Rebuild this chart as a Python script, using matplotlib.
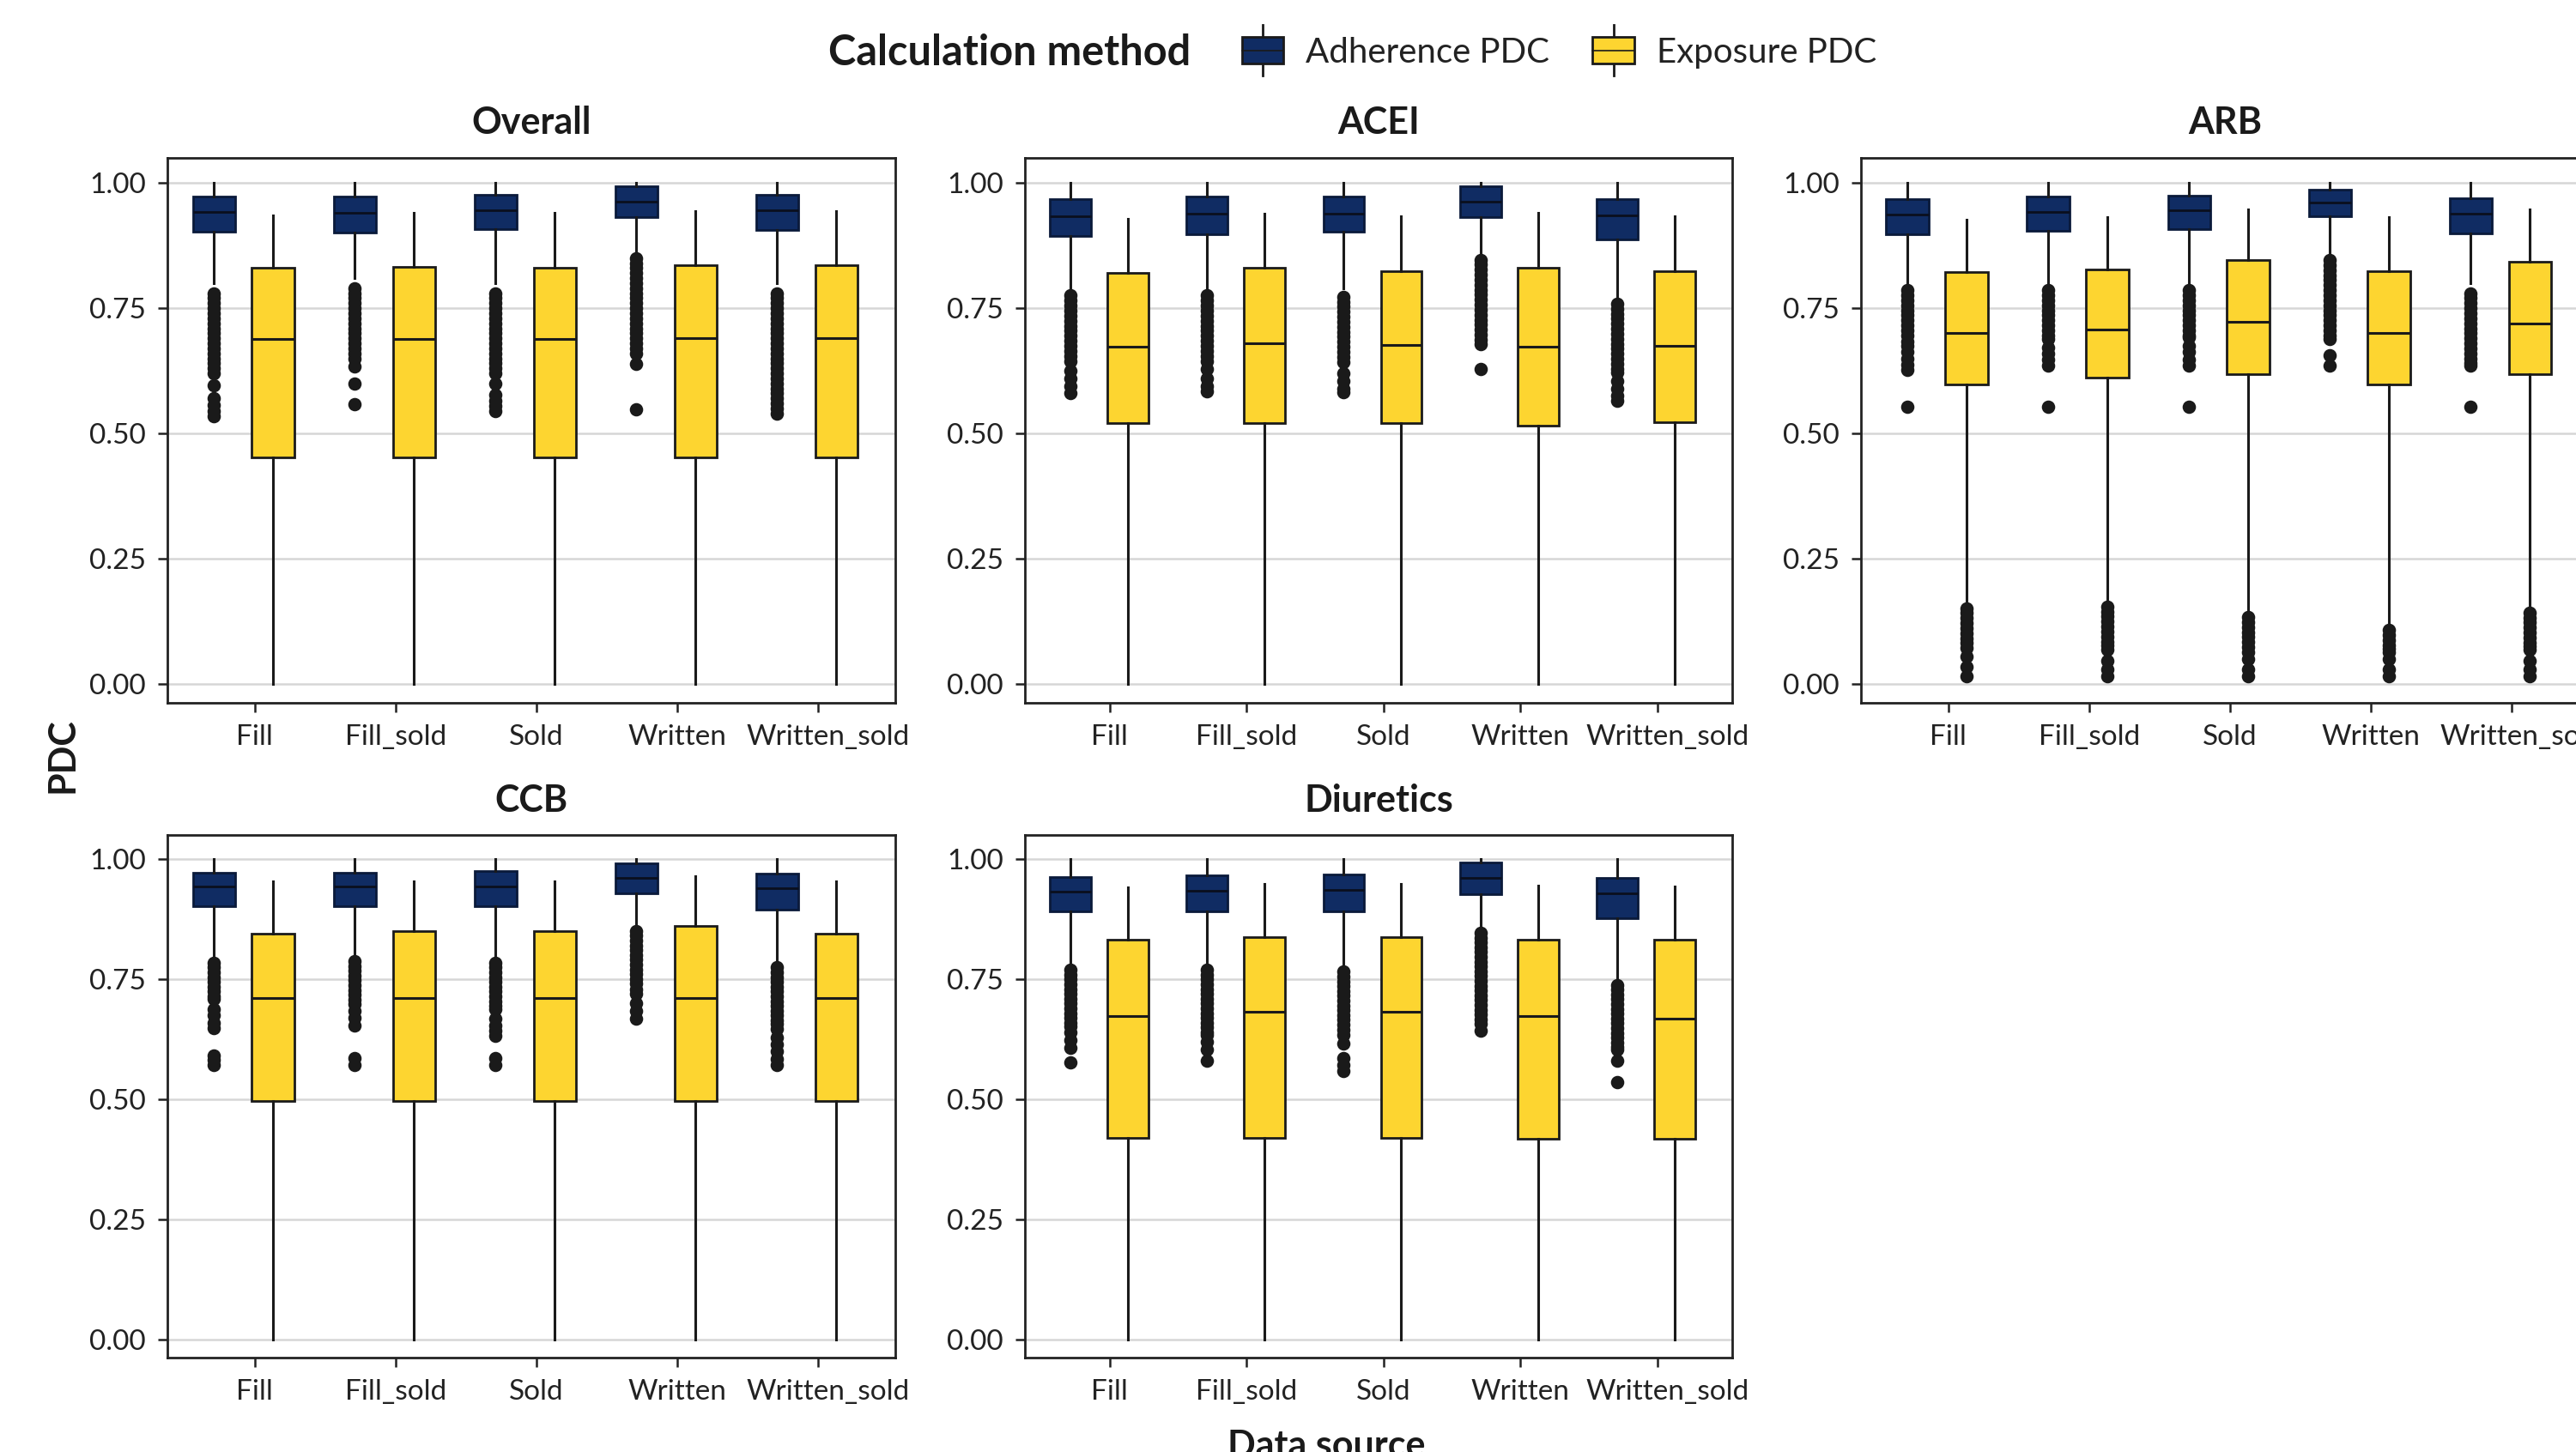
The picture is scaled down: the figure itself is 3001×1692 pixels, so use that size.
import matplotlib
matplotlib.use('Agg')
import numpy as np
import matplotlib.pyplot as plt
from matplotlib.legend_handler import HandlerBase
from matplotlib.patches import Rectangle, Patch
from matplotlib.lines import Line2D
from matplotlib.transforms import ScaledTranslation

plt.rcParams['font.family'] = ['Lato', 'DejaVu Sans']

sources = ['Fill', 'Fill_sold', 'Sold', 'Written', 'Written_sold']
panels = ['Overall', 'ACEI', 'ARB', 'CCB', 'Diuretics']

# each row: whisker low, q1, median, q3, whisker high
overall_adh = [[0.80, 0.902, 0.942, 0.973, 1.0],
               [0.81, 0.901, 0.940, 0.973, 1.0],
               [0.80, 0.908, 0.946, 0.977, 1.0],
               [0.86, 0.931, 0.962, 0.993, 1.0],
               [0.80, 0.906, 0.946, 0.977, 1.0]]
overall_adh_out = [
    [0.78, 0.77, 0.76, 0.75, 0.74, 0.73, 0.72, 0.71, 0.70, 0.69, 0.68, 0.67, 0.66, 0.65, 0.64, 0.63, 0.62,
     0.597, 0.571, 0.557, 0.545, 0.534],
    [0.79, 0.78, 0.77, 0.76, 0.75, 0.74, 0.73, 0.72, 0.71, 0.70, 0.69, 0.68, 0.67, 0.66, 0.65,
     0.634, 0.600, 0.558],
    [0.78, 0.77, 0.76, 0.75, 0.74, 0.73, 0.72, 0.71, 0.70, 0.69, 0.68, 0.67, 0.66, 0.65, 0.64, 0.63, 0.62,
     0.600, 0.577, 0.565, 0.555, 0.545],
    [0.85, 0.84, 0.83, 0.82, 0.81, 0.80, 0.79, 0.78, 0.77, 0.76, 0.75, 0.74, 0.73, 0.72, 0.71, 0.70, 0.69,
     0.68, 0.67, 0.66, 0.639, 0.548],
    [0.78, 0.77, 0.76, 0.75, 0.74, 0.73, 0.72, 0.71, 0.70, 0.69, 0.68, 0.67, 0.66, 0.65, 0.64, 0.63, 0.62,
     0.61, 0.60, 0.59, 0.58, 0.57, 0.56, 0.55, 0.54]]
overall_exp = [[0.0, 0.453, 0.689, 0.830, 0.936],
               [0.0, 0.453, 0.689, 0.832, 0.940],
               [0.0, 0.453, 0.689, 0.830, 0.940],
               [0.0, 0.453, 0.690, 0.836, 0.943],
               [0.0, 0.453, 0.690, 0.836, 0.943]]
overall_exp_out = [[], [], [], [], []]

acei_adh = [[0.79, 0.894, 0.934, 0.967, 1.0],
            [0.79, 0.897, 0.939, 0.972, 1.0],
            [0.79, 0.902, 0.939, 0.973, 1.0],
            [0.86, 0.931, 0.962, 0.993, 1.0],
            [0.775, 0.887, 0.935, 0.967, 1.0]]
acei_adh_out = [
    [0.776, 0.765, 0.755, 0.745, 0.735, 0.725, 0.715, 0.705, 0.695, 0.685, 0.675, 0.665, 0.655, 0.645,
     0.625, 0.61, 0.595, 0.58],
    [0.776, 0.765, 0.755, 0.745, 0.735, 0.725, 0.715, 0.705, 0.695, 0.685, 0.675, 0.665, 0.655, 0.645,
     0.628, 0.61, 0.595, 0.585],
    [0.773, 0.763, 0.753, 0.743, 0.733, 0.723, 0.713, 0.703, 0.693, 0.683, 0.673, 0.663, 0.653, 0.643,
     0.62, 0.605, 0.59, 0.582],
    [0.847, 0.837, 0.827, 0.817, 0.807, 0.797, 0.787, 0.777, 0.767, 0.757, 0.747, 0.737, 0.727, 0.717,
     0.707, 0.697, 0.687, 0.679, 0.628],
    [0.759, 0.749, 0.739, 0.729, 0.719, 0.709, 0.699, 0.689, 0.679, 0.669, 0.659, 0.649, 0.639, 0.629,
     0.622, 0.605, 0.59, 0.575, 0.565]]
acei_exp = [[0.0, 0.521, 0.673, 0.820, 0.929],
            [0.0, 0.521, 0.680, 0.830, 0.938],
            [0.0, 0.521, 0.677, 0.824, 0.933],
            [0.0, 0.515, 0.673, 0.830, 0.941],
            [0.0, 0.523, 0.675, 0.824, 0.933]]
acei_exp_out = [[], [], [], [], []]

arb_adh = [[0.80, 0.897, 0.937, 0.967, 1.0],
           [0.80, 0.905, 0.942, 0.972, 1.0],
           [0.80, 0.908, 0.946, 0.975, 1.0],
           [0.86, 0.934, 0.960, 0.987, 1.0],
           [0.80, 0.899, 0.938, 0.969, 1.0]]
arb_adh_out = [
    [0.786, 0.776, 0.766, 0.756, 0.746, 0.736, 0.726, 0.716, 0.706, 0.696, 0.684,
     0.675, 0.663, 0.65, 0.638, 0.627, 0.554],
    [0.786, 0.776, 0.766, 0.756, 0.746, 0.736, 0.726, 0.716, 0.706, 0.696, 0.688,
     0.672, 0.66, 0.648, 0.635, 0.554],
    [0.786, 0.776, 0.766, 0.756, 0.746, 0.736, 0.726, 0.716, 0.706, 0.696, 0.692,
     0.675, 0.663, 0.648, 0.635, 0.554],
    [0.846, 0.836, 0.826, 0.816, 0.806, 0.796, 0.786, 0.776, 0.766, 0.756, 0.746, 0.736, 0.726, 0.716,
     0.706, 0.696, 0.688, 0.657, 0.635],
    [0.78, 0.77, 0.76, 0.75, 0.74, 0.73, 0.72, 0.71, 0.70, 0.69, 0.68, 0.67, 0.66, 0.65, 0.64, 0.635,
     0.554]]
arb_exp = [[0.16, 0.598, 0.700, 0.822, 0.927],
           [0.165, 0.612, 0.707, 0.827, 0.931],
           [0.145, 0.618, 0.723, 0.846, 0.947],
           [0.115, 0.598, 0.700, 0.824, 0.932],
           [0.15, 0.618, 0.720, 0.842, 0.947]]
arb_exp_out = [
    [0.152, 0.142, 0.132, 0.122, 0.112, 0.102, 0.092, 0.082, 0.073, 0.055, 0.035, 0.016],
    [0.155, 0.145, 0.135, 0.125, 0.115, 0.105, 0.095, 0.085, 0.077, 0.069, 0.047, 0.03, 0.016],
    [0.134, 0.124, 0.114, 0.104, 0.094, 0.084, 0.074, 0.064, 0.05, 0.03, 0.016],
    [0.108, 0.098, 0.088, 0.078, 0.07, 0.064, 0.05, 0.03, 0.016],
    [0.143, 0.133, 0.123, 0.113, 0.103, 0.093, 0.083, 0.075, 0.069, 0.047, 0.03, 0.016]]

ccb_adh = [[0.80, 0.902, 0.944, 0.973, 1.0],
           [0.80, 0.902, 0.944, 0.973, 1.0],
           [0.80, 0.902, 0.944, 0.976, 1.0],
           [0.865, 0.930, 0.962, 0.991, 1.0],
           [0.79, 0.896, 0.940, 0.970, 1.0]]
ccb_adh_out = [
    [0.785, 0.775, 0.765, 0.755, 0.745, 0.735, 0.725, 0.715, 0.709, 0.688, 0.675, 0.66, 0.648,
     0.592, 0.582, 0.572],
    [0.788, 0.778, 0.768, 0.758, 0.748, 0.738, 0.728, 0.718, 0.708, 0.699, 0.685, 0.67, 0.655,
     0.587, 0.572],
    [0.785, 0.775, 0.765, 0.755, 0.745, 0.735, 0.725, 0.715, 0.705, 0.695, 0.688, 0.668, 0.655, 0.643,
     0.632, 0.587, 0.572],
    [0.851, 0.841, 0.831, 0.821, 0.811, 0.801, 0.791, 0.781, 0.771, 0.761, 0.751, 0.741, 0.729,
     0.72, 0.70, 0.685, 0.668],
    [0.775, 0.765, 0.755, 0.745, 0.735, 0.725, 0.715, 0.705, 0.695, 0.685, 0.675, 0.665, 0.658,
     0.647, 0.63, 0.615, 0.60, 0.585, 0.572]]
ccb_exp = [[0.0, 0.497, 0.711, 0.846, 0.954],
           [0.0, 0.497, 0.711, 0.851, 0.954],
           [0.0, 0.497, 0.711, 0.851, 0.954],
           [0.0, 0.497, 0.711, 0.861, 0.965],
           [0.0, 0.497, 0.711, 0.846, 0.954]]
ccb_exp_out = [[], [], [], [], []]

diur_adh = [[0.785, 0.892, 0.932, 0.964, 1.0],
            [0.785, 0.892, 0.935, 0.967, 1.0],
            [0.78, 0.892, 0.937, 0.968, 1.0],
            [0.86, 0.928, 0.962, 0.993, 1.0],
            [0.755, 0.878, 0.930, 0.962, 1.0]]
diur_adh_out = [
    [0.770, 0.760, 0.750, 0.740, 0.730, 0.720, 0.710, 0.700, 0.690, 0.680, 0.670, 0.660, 0.653,
     0.64, 0.624, 0.608, 0.578],
    [0.770, 0.760, 0.750, 0.740, 0.730, 0.720, 0.710, 0.700, 0.690, 0.680, 0.670, 0.660, 0.650, 0.640,
     0.635, 0.62, 0.604, 0.581],
    [0.766, 0.756, 0.746, 0.736, 0.726, 0.716, 0.706, 0.696, 0.686, 0.676, 0.666, 0.656, 0.646, 0.635,
     0.617, 0.586, 0.572, 0.559],
    [0.847, 0.837, 0.827, 0.817, 0.807, 0.797, 0.787, 0.777, 0.767, 0.757, 0.747, 0.737, 0.727, 0.717,
     0.707, 0.697, 0.687, 0.677, 0.667, 0.658, 0.644],
    [0.739, 0.729, 0.719, 0.709, 0.699, 0.689, 0.679, 0.669, 0.659, 0.649, 0.639, 0.629, 0.619, 0.61,
     0.604, 0.581, 0.536]]
diur_exp = [[0.0, 0.421, 0.673, 0.832, 0.941],
            [0.0, 0.421, 0.683, 0.838, 0.949],
            [0.0, 0.421, 0.683, 0.838, 0.949],
            [0.0, 0.419, 0.674, 0.832, 0.946],
            [0.0, 0.419, 0.669, 0.832, 0.944]]
diur_exp_out = [[], [], [], [], []]

NAVY = '#102c63'
YELLOW = '#fdd530'
EDGE = '#1a1a1a'


def makeStats(rows, fliers):
    stats = []
    for r, f in zip(rows, fliers):
        stats.append(dict(whislo=r[0], q1=r[1], med=r[2], q3=r[3], whishi=r[4], fliers=f))
    return stats


class BoxHandler(HandlerBase):
    def create_artists(self, legend, orig_handle, xdescent, ydescent, width, height, fontsize, trans):
        fc = orig_handle.get_facecolor()
        x0, y0 = -xdescent, -ydescent
        cx = x0 + width / 2
        stem = Line2D([cx, cx], [y0 - 0.45 * height, y0 + 1.45 * height], color=EDGE, lw=1.0,
                      transform=trans)
        box = Rectangle((x0 + 0.1 * width, y0), 0.8 * width, height, facecolor=fc, edgecolor=EDGE,
                        lw=1.0, transform=trans)
        med = Line2D([x0 + 0.1 * width, x0 + 0.9 * width], [y0 + height / 2] * 2, color=EDGE, lw=0.6,
                     transform=trans)
        return [stem, box, med]


def drawPanel(fig, ax, title, adh, adh_out, exp, exp_out):
    x = np.arange(len(sources))
    flier = dict(marker='o', markerfacecolor=EDGE, markeredgecolor=EDGE, markersize=4.6, linestyle='none')
    common = dict(widths=0.30, patch_artist=True, showcaps=False, manage_ticks=False,
                  whiskerprops=dict(color=EDGE, lw=1.1), flierprops=flier)
    ax.bxp(makeStats(adh, adh_out), positions=x - 0.21,
           boxprops=dict(facecolor=NAVY, edgecolor='#0a1a3a', lw=1.0),
           medianprops=dict(color='#0a0f1e', lw=1.0), **common)
    ax.bxp(makeStats(exp, exp_out), positions=x + 0.21,
           boxprops=dict(facecolor=YELLOW, edgecolor=EDGE, lw=1.0),
           medianprops=dict(color=EDGE, lw=1.1), **common)
    ax.set_xlim(-0.54, 4.63)
    ax.set_ylim(-0.037, 1.05)
    ax.set_xticks(x + 0.08)
    ax.set_xticklabels(sources)
    ax.set_yticks([0, 0.25, 0.5, 0.75, 1.0])
    ax.set_yticklabels(['0.00', '0.25', '0.50', '0.75', '1.00'])
    ax.yaxis.grid(True, color='#d6d6d6', lw=0.9)
    ax.set_axisbelow(True)
    ax.tick_params(length=4, width=0.9, labelsize=12, colors='#222222', pad=5)
    # the last label sits a bit right of its tick in the original
    lab = ax.get_xticklabels()[-1]
    lab.set_transform(lab.get_transform() + ScaledTranslation(0.06, 0, fig.dpi_scale_trans))
    for s in ax.spines.values():
        s.set_color('#222222')
        s.set_linewidth(1.0)
    ax.set_title(title, fontsize=15.5, fontweight='bold', pad=10, color='#1a1a1a')


def main():
    fig = plt.figure(figsize=(15.005, 8.46), dpi=200)
    fig.patch.set_facecolor('white')

    lefts = [0.065, 0.3979, 0.7224]
    widths = [0.2826, 0.2746, 0.2826]
    top_b, top_h = 0.516, 0.3753
    bot_b, bot_h = 0.065, 0.3597

    data = [(overall_adh, overall_adh_out, overall_exp, overall_exp_out),
            (acei_adh, acei_adh_out, acei_exp, acei_exp_out),
            (arb_adh, arb_adh_out, arb_exp, arb_exp_out),
            (ccb_adh, ccb_adh_out, ccb_exp, ccb_exp_out),
            (diur_adh, diur_adh_out, diur_exp, diur_exp_out)]

    for i in range(len(panels)):
        row, col = divmod(i, 3)
        if row == 0:
            ax = fig.add_axes([lefts[col], top_b, widths[col], top_h])
        else:
            ax = fig.add_axes([lefts[col], bot_b, widths[col], bot_h])
        drawPanel(fig, ax, panels[i], *data[i])

    fig.text(0.024, 0.48, 'PDC', rotation=90, fontsize=15.5, fontweight='bold', ha='center', va='center',
             color='#1a1a1a')
    fig.text(0.515, 0.004, 'Data source', fontsize=15.5, fontweight='bold', ha='center', va='center',
             color='#1a1a1a')

    fig.text(0.4624, 0.9638, 'Calculation method', fontsize=17.5, fontweight='bold', ha='right',
             va='center', color='#1a1a1a')
    h1 = Patch(facecolor=NAVY)
    h2 = Patch(facecolor=YELLOW)
    fig.legend([h1, h2], ['Adherence PDC', 'Exposure PDC'], loc='center left',
               bbox_to_anchor=(0.480, 0.9638), borderpad=0.0, borderaxespad=0.0,
               ncol=2, frameon=False, fontsize=14.5, handler_map={Patch: BoxHandler()},
               handlelength=1.5, handleheight=0.8, handletextpad=0.5, columnspacing=1.1,
               labelcolor='#222222')

    fig.savefig('out.png', dpi=200)


if __name__ == '__main__':
    main()
